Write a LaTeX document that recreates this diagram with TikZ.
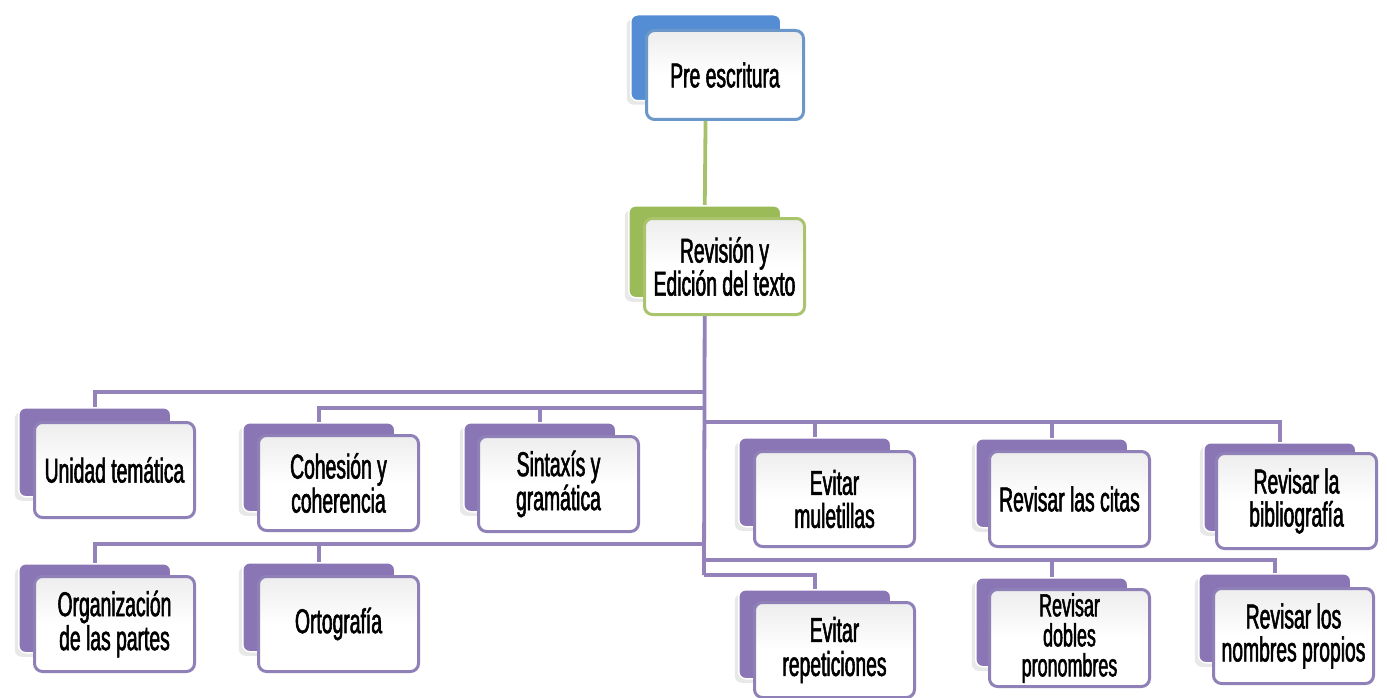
\documentclass[tikz,border=0pt]{standalone}
\usepackage{fontspec}
\setmainfont{Liberation Sans}[FakeStretch=0.56, FakeBold=1.6]
\usetikzlibrary{shadows}
\definecolor{blueback}{HTML}{548DD4}
\definecolor{blueline}{HTML}{6B97C9}
\definecolor{greenback}{HTML}{9BBB59}
\definecolor{greenline}{HTML}{A9C46C}
\definecolor{purpleback}{HTML}{8B76B5}
\definecolor{purpleline}{HTML}{8F80B8}
\definecolor{connp}{HTML}{9383BA}
\definecolor{conng}{HTML}{A5C16A}
\tikzset{
  backbox/.style={anchor=north west, minimum width=152pt, minimum height=89pt,
    rounded corners=7pt, fill=#1, draw=white, line width=1.5pt, inner sep=0pt,
    drop shadow={shadow xshift=-4pt, shadow yshift=-4pt, fill=black!9, opacity=1}},
  frontbox/.style={anchor=north west, minimum width=160pt, minimum height=95pt,
    rounded corners=8pt, draw=#1, line width=3pt, top color=black!7,
    bottom color=white, middle color=white, align=center, inner sep=1pt,
    font=\fontsize{34.5}{34}\selectfont, text=black},
  pconn/.style={draw=connp, line width=3.8pt, line join=miter},
  gconn/.style={draw=conng, line width=3.8pt}
}
\begin{document}
\begin{tikzpicture}[x=1pt,y=-1pt]
\useasboundingbox (0,0) rectangle (1387,698);
\fill[white] (0,0) rectangle (1387,698);

% coordinates on the trunk
\coordinate (j1) at (704,392);
\coordinate (j2) at (704,408);
\coordinate (j3) at (704,422);
\coordinate (j4) at (704,544);
\coordinate (j5) at (704,560);
\coordinate (j6) at (704,575);

% back boxes of the two upper steps
\node[backbox=blueback, minimum width=150pt, minimum height=86pt] (bpre) at (630,14) {};
\node[backbox=greenback, minimum height=92pt] (brev) at (628,205) {};

\draw[gconn] (bpre.south) -- (brev.north);
\draw[pconn] (brev.south) -- (j6);

% children back boxes
\node[backbox=purpleback] (b1) at (18,407) {};
\node[backbox=purpleback] (b2) at (242,422) {};
\node[backbox=purpleback] (b3) at (463,422) {};
\node[backbox=purpleback] (b4) at (738,437) {};
\node[backbox=purpleback] (b5) at (975,438) {};
\node[backbox=purpleback] (b6) at (1203,442) {};
\node[backbox=purpleback] (b7) at (18,563) {};
\node[backbox=purpleback] (b8) at (242,562) {};
\node[backbox=purpleback] (b9) at (738,589) {};
\node[backbox=purpleback] (b10) at (975,577) {};
\node[backbox=purpleback] (b11) at (1198,573) {};

\draw[pconn] (j1) -| (b1.north);
\draw[pconn] (j2) -| (b2.north);
\draw[pconn] (j2) -| (b3.north);
\draw[pconn] (j3) -| (b4.north);
\draw[pconn] (j3) -| (b5.north);
\draw[pconn] (j3) -| (b6.north);
\draw[pconn] (j4) -| (b7.north);
\draw[pconn] (j4) -| (b8.north);
\draw[pconn] (j5) -| (b10.north);
\draw[pconn] (j5) -| (b11.north);
\draw[pconn] (j6) -| (b9.north);

% front boxes
\node[frontbox=blueline, minimum width=157pt, minimum height=89pt] (pre) at (645,29) {Pre escritura};
\node[frontbox=greenline, minimum height=96pt, font=\fontsize{34.5}{33}\selectfont] (rev) at (643,217) {Revisión y\\Edición del texto};

\node[frontbox=purpleline] (n1) at (33,421) {Unidad temática};
\node[frontbox=purpleline] (n2) at (257,434) {Cohesión y\\coherencia};
\node[frontbox=purpleline] (n3) at (477,435) {Sintaxís y\\gramática};
\node[frontbox=purpleline, font=\fontsize{34.5}{33}\selectfont] (n4) at (753,450) {Evitar\\muletillas};
\node[frontbox=purpleline] (n5) at (988,450) {Revisar las citas};
\node[frontbox=purpleline, font=\fontsize{34.5}{33}\selectfont] (n6) at (1215,452) {Revisar la\\bibliografía};
\node[frontbox=purpleline] (n7) at (33,575) {Organización\\de las partes};
\node[frontbox=purpleline] (n8) at (257,575) {Ortografía};
\node[frontbox=purpleline] (n9) at (753,601) {Evitar\\repeticiones};
\node[frontbox=purpleline, font=\fontsize{32}{30}\selectfont, minimum height=97pt] (n10) at (988,588) {Revisar\\dobles\\pronombres};
\node[frontbox=purpleline, font=\fontsize{34.5}{33}\selectfont] (n11) at (1212,587) {Revisar los\\nombres propios};
\end{tikzpicture}
\end{document}
